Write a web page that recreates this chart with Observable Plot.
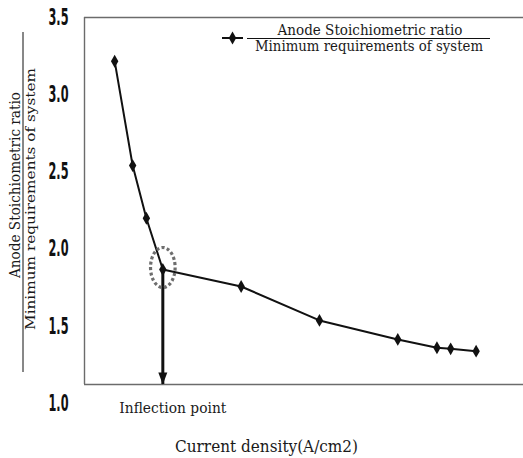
<!DOCTYPE html>
<html><head><meta charset="utf-8">
<script src="https://cdn.jsdelivr.net/npm/d3@7"></script>
<script src="https://cdn.jsdelivr.net/npm/@observablehq/plot@0.6"></script>
<style>
body{margin:0;background:#fff}
#wrap{width:523px;height:458px}
</style>
</head><body><div id="wrap"></div>
<script>
// ---- data ----
const currentDensity = [0.077, 0.123, 0.158, 0.2, 0.4, 0.6, 0.8, 0.9, 0.935, 1.0];
const stoichRatio    = [3.217, 2.541, 2.200, 1.868, 1.758, 1.538, 1.415, 1.361, 1.354, 1.339];
const yTicks = [1.0, 1.5, 2.0, 2.5, 3.0, 3.5];
const inflectionIndex = 3;
const legendNumerator = "Anode Stoichiometric ratio";
const legendDenominator = "Minimum requirements of system";
const xLabel = "Current density(A/cm2)";
const inflectionLabel = "Inflection point";

const data = currentDensity.map((x, i) => ({x, y: stoichRatio[i]}));
const infl = [data[inflectionIndex]];

// ---- layout ----
const W = 523, H = 458;
const mL = 84, mR = 0, mT = 17, mB = 74;
const xDomain = [0, 1.121];
const yDomain = [1.0, 3.5];
const yRange = [403, 17];
const yScale = d3.scaleLinear().domain(yDomain).range(yRange);
const yBottom = yScale.invert(H - mB);   // value at bottom frame line

const ellipse = {
  draw(ctx) {
    const rx = 12.3, ry = 20, k = 0.5523;
    ctx.moveTo(rx, 0);
    ctx.bezierCurveTo(rx, k*ry, k*rx, ry, 0, ry);
    ctx.bezierCurveTo(-k*rx, ry, -rx, k*ry, -rx, 0);
    ctx.bezierCurveTo(-rx, -k*ry, -k*rx, -ry, 0, -ry);
    ctx.bezierCurveTo(k*rx, -ry, rx, -k*ry, rx, 0);
    ctx.closePath();
  }
};
const arrowHead = {
  draw(ctx) {
    ctx.moveTo(0, 0);
    ctx.lineTo(-4.5, -12);
    ctx.lineTo(4.5, -12);
    ctx.closePath();
  }
};

const frameColor = "#6b6b6b";

const chart = Plot.plot({
  width: W, height: H,
  marginLeft: mL, marginRight: mR, marginTop: mT, marginBottom: mB,
  style: {background: "#fff", overflow: "visible"},
  x: {domain: xDomain, axis: null},
  y: {domain: yDomain, range: yRange},
  marks: [
    Plot.ruleY([yDomain[1]], {stroke: frameColor, strokeWidth: 1.4}),
    Plot.ruleY([yBottom], {stroke: frameColor, strokeWidth: 1.4}),
    Plot.ruleX([xDomain[0]], {stroke: frameColor, strokeWidth: 1.4}),
    Plot.axisY(yTicks, {
      tickSize: 0, tickPadding: 16, label: null,
      tickFormat: d => d.toFixed(1),
      fontSize: 23, fontWeight: "bold", fontFamily: "DejaVu Sans Condensed",
      fill: "#111"
    }),
    Plot.line(data, {x: "x", y: "y", stroke: "#111", strokeWidth: 2}),
    Plot.ruleX(infl, {x: "x", y1: "y", y2: () => yBottom, stroke: "#111", strokeWidth: 3}),
    Plot.dot(infl, {x: "x", y: () => yBottom, symbol: arrowHead, fill: "#111", stroke: "none", r: 4}),
    Plot.dot(data, {x: "x", y: "y", symbol: "diamond", fill: "#111", stroke: "none", r: 3.9}),
    Plot.dot(infl, {x: "x", y: "y", symbol: ellipse, fill: "none", stroke: "#6e6e6e", strokeWidth: 3.2, strokeDasharray: "3,2.4", dy: -2, r: 10}),
    Plot.text(infl, {x: "x", y: () => yBottom, text: () => inflectionLabel, dx: 10, dy: 24,
      fontFamily: "DejaVu Serif", fontSize: 15, fill: "#1a1a1a"})
  ]
});

document.getElementById("wrap").appendChild(chart);
const svg = d3.select(chart);

// condense tick labels like the reference
svg.selectAll('g[aria-label="y-axis tick label"] text')
  .attr("textLength", 20).attr("lengthAdjust", "spacingAndGlyphs");
svg.selectAll('g[aria-label="text"] text')
  .attr("textLength", 107).attr("lengthAdjust", "spacingAndGlyphs");

const serif = "DejaVu Serif";

// y-axis label (fraction, rotated)
const yl = svg.append("g").attr("fill", "#1a1a1a").attr("font-family", serif).attr("text-anchor", "middle");
yl.append("text").attr("transform", "translate(20,185) rotate(-90)")
  .attr("font-size", 14)
  .attr("textLength", 186).attr("lengthAdjust", "spacingAndGlyphs")
  .text(legendNumerator);
yl.append("line").attr("x1", 23).attr("x2", 23).attr("y1", 32).attr("y2", 372)
  .attr("stroke", "#111").attr("stroke-width", 1);
yl.append("text").attr("transform", "translate(35,199) rotate(-90)")
  .attr("font-size", 13)
  .attr("textLength", 262).attr("lengthAdjust", "spacingAndGlyphs")
  .text(legendDenominator);

// legend
const lg = svg.append("g").attr("fill", "#1a1a1a").attr("font-family", serif).attr("text-anchor", "middle");
lg.append("line").attr("x1", 222).attr("x2", 243).attr("y1", 38).attr("y2", 38)
  .attr("stroke", "#111").attr("stroke-width", 2);
lg.append("path").attr("transform", "translate(232.5,38)")
  .attr("d", d3.symbol(d3.symbolDiamond, 3.9 * 3.9 * Math.PI)()).attr("fill", "#111");
lg.append("text").attr("x", 370).attr("y", 35)
  .attr("font-size", 14).attr("textLength", 185).attr("lengthAdjust", "spacingAndGlyphs")
  .text(legendNumerator);
lg.append("line").attr("x1", 247).attr("x2", 490).attr("y1", 38.5).attr("y2", 38.5)
  .attr("stroke", "#111").attr("stroke-width", 1);
lg.append("text").attr("x", 369).attr("y", 50.5)
  .attr("font-size", 14).attr("textLength", 228).attr("lengthAdjust", "spacingAndGlyphs")
  .text(legendDenominator);

// x-axis label
svg.append("text").attr("x", 175).attr("y", 452).attr("text-anchor", "start")
  .attr("fill", "#1a1a1a").attr("font-size", 17).attr("font-family", serif)
  .attr("textLength", 183).attr("lengthAdjust", "spacingAndGlyphs")
  .text(xLabel);
</script>
</body></html>
